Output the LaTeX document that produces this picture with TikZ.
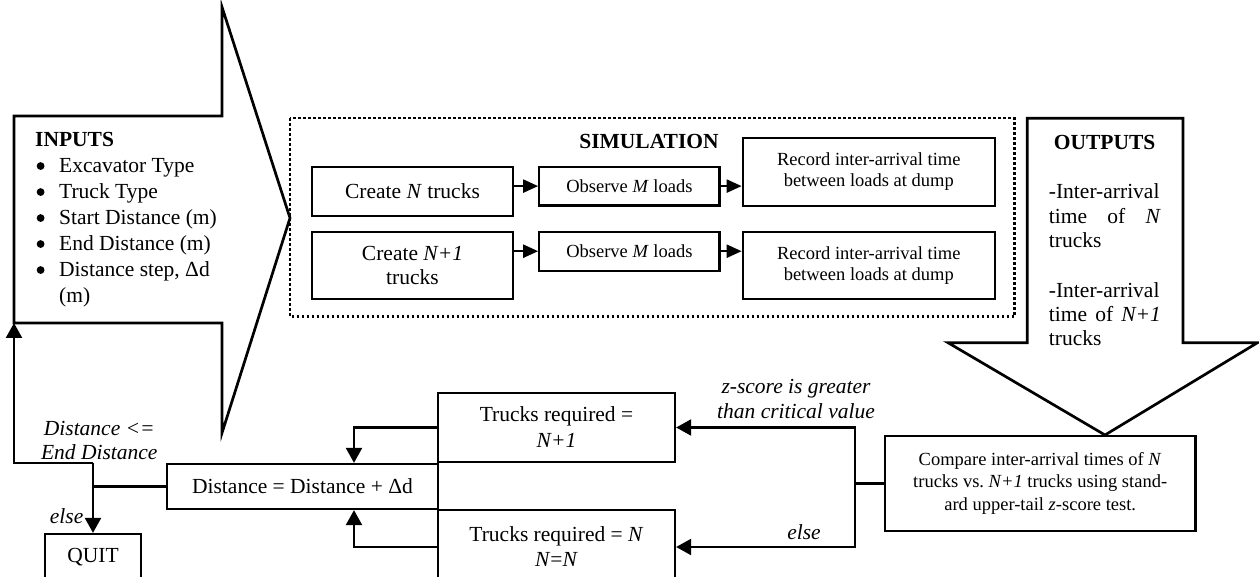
\documentclass[tikz,border=0pt]{standalone}
\usepackage{fontspec}
\setmainfont{Liberation Serif}
\usetikzlibrary{arrows.meta}

\newcommand\bigtext{\fontsize{21.5}{25.5}\selectfont}
\newcommand\smalltext{\fontsize{18.5}{21}\selectfont}
\newcommand\bulletmark{\tikz[baseline=-6.5pt]\fill (0,0) circle[radius=3.9pt];}
\newcommand\bitem[1]{\makebox[24pt][l]{\hspace{1.5pt}\bulletmark}#1}

\tikzset{
  box/.style={draw, line width=2.3pt, inner sep=0pt, align=center},
  bigbox/.style={box, font=\bigtext},
  smallbox/.style={box, font=\smalltext},
  link/.style={line width=2.3pt},
  arr/.style={line width=2.3pt, -{Triangle[length=15pt,width=16pt]}},
  simarr/.style={line width=2.3pt, -{Triangle[length=15pt,width=13pt]}},
  blockarrow/.style={draw, line width=2.7pt, line join=miter},
  simframe/.style={draw, line width=2.4pt, dash pattern=on 2.4pt off 2.6pt},
  lbl/.style={inner sep=0pt, font=\bigtext\itshape, align=center},
}

\begin{document}
\begin{tikzpicture}[x=1pt,y=-1pt]
\useasboundingbox (0,0) rectangle (1259,577);
\clip (0,0) rectangle (1259,577);

% input block arrow
\draw[blockarrow] (14,116) -- (222,116) -- (222,7) -- (290,218) -- (222,433)
  -- (222,323) -- (14,323) -- cycle;
\coordinate (inSW) at (14,323);
\node[anchor=north west, inner sep=0pt, align=left,
      font=\fontsize{21.5}{26}\selectfont] (inputs) at (35,132.1)
  {\textbf{INPUTS}\\
   \bitem{Excavator Type}\\
   \bitem{Truck Type}\\
   \bitem{Start Distance (m)}\\
   \bitem{End Distance (m)}\\
   \bitem{Distance step, Δd}\\
   \hspace*{24pt}(m)};

% simulation frame
\draw[simframe] (290,118.3) rectangle (1014.4,316.7);
\node[inner sep=0pt, font=\bigtext\bfseries] (simtitle) at (649,141) {SIMULATION};

\node[bigbox, minimum width=200.4pt, minimum height=49pt] (createA) at (412.5,191.2)
  {Create \textit{N} trucks};
\node[bigbox, minimum width=200.4pt, minimum height=67.6pt,
      font=\fontsize{21.5}{23.3}\selectfont] (createB) at (412.5,265.5)
  {Create \textit{N+1}\\trucks};
\node[smallbox, minimum width=180.2pt, minimum height=38.8pt] (obsA) at (629.4,186.1)
  {Observe \textit{M} loads};
\node[smallbox, minimum width=180.2pt, minimum height=39pt] (obsB) at (629.4,251.2)
  {Observe \textit{M} loads};
\node[smallbox, minimum width=252pt, minimum height=68pt,
      font=\fontsize{18.5}{20.7}\selectfont] (recA) at (868.8,171.7)
  {Record inter-arrival time\\between loads at dump};
\node[smallbox, minimum width=252pt, minimum height=67.6pt,
      font=\fontsize{18.5}{20.7}\selectfont] (recB) at (868.8,265.5)
  {Record inter-arrival time\\between loads at dump};

\draw[simarr] (createA.east |- obsA.west) -- (obsA.west);
\draw[simarr] (obsA.east) -- (obsA.east -| recA.west);
\draw[simarr] (createB.east |- obsB.west) -- (obsB.west);
\draw[simarr] (obsB.east) -- (obsB.east -| recB.west);

% output block arrow
\draw[blockarrow] (1027.3,118.3) -- (1183,118.3) -- (1183,342.7) -- (1257.5,342.7)
  -- (1105,435) -- (948,342.7) -- (1027.3,342.7) -- cycle;
\node[inner sep=0pt, font=\bigtext\bfseries] (outtitle) at (1104.6,142) {OUTPUTS};
\node[anchor=north west, inner sep=0pt, align=left,
      font=\fontsize{21.5}{24.3}\selectfont] (outN) at (1048.7,183.6)
  {-Inter-arrival\\\makebox[112pt][s]{time of \textit{N}}\\trucks};
\node[anchor=north west, inner sep=0pt, align=left,
      font=\fontsize{21.5}{24.3}\selectfont] (outN1) at (1048.7,282)
  {-Inter-arrival\\\makebox[112pt][s]{time of \textit{N+1}}\\trucks};

% comparison and decision
\node[smallbox, minimum width=310.5pt, minimum height=94.7pt,
      font=\fontsize{18.5}{22.2}\selectfont] (cmp) at (1040.2,483.4)
  {Compare inter-arrival times of \textit{N}\\
   trucks vs.\ \textit{N+1} trucks using stand-\\
   ard upper-tail \textit{z}-score test.};
\node[bigbox, minimum width=237pt, minimum height=69pt,
      font=\fontsize{21.5}{26}\selectfont] (tr1) at (556.5,427.5)
  {Trucks required =\\\textit{N+1}};
\node[bigbox, minimum width=237pt, minimum height=74pt,
      font=\fontsize{21.5}{25}\selectfont] (tr2) at (556.5,547)
  {Trucks required = \textit{N}\\\textit{N}=\textit{N}};
\node[bigbox, minimum width=271pt, minimum height=45pt] (dist) at (302.5,486.5)
  {Distance = Distance + Δd};
\node[bigbox, minimum width=96pt, minimum height=46pt] (quit) at (93,557) {QUIT};

\coordinate (split) at (855,483.4);
\draw[link] (cmp.west) -- (split);
\draw[arr] (split) |- (tr1.east);
\draw[arr] (split) |- (tr2.east);

\draw[arr] (tr1.west) -| ([xshift=51.5pt]dist.north);
\draw[arr] (tr2.west) -| ([xshift=51.5pt]dist.south);

\coordinate (fork) at (93,463);
\draw[link] (dist.west) -- (dist.west -| fork);
\draw[arr] (fork) -- (quit.north);
\draw[arr] (fork) -| (inSW);

% branch labels
\node[lbl, font=\fontsize{21.5}{24}\selectfont\itshape] (lblLoop) at (99.3,440)
  {Distance <=\\End Distance};
\node[lbl, anchor=east] (lblQuit) at (83.5,516) {else};
\node[lbl, font=\fontsize{21.5}{25}\selectfont\itshape] (lblGt) at (796,399)
  {z-score is greater\\than critical value};
\node[lbl] (lblElse) at (804,531.7) {else};
\end{tikzpicture}
\end{document}
